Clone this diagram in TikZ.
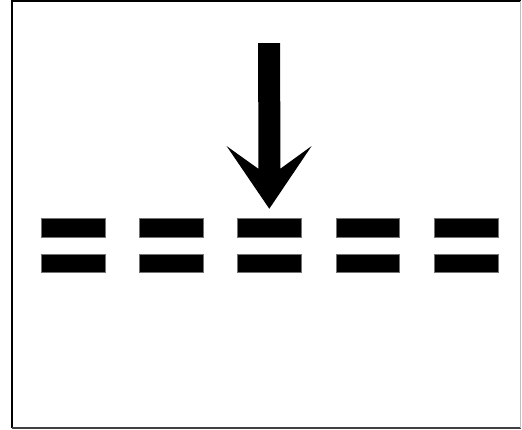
\documentclass[tikz,border=0pt]{standalone}
\usetikzlibrary{calc}
\begin{document}
\begin{tikzpicture}[x=1pt,y=-1pt,
  barbox/.style={rectangle,fill=black,draw=black!55,line width=0.5pt,minimum width=63.5pt,minimum height=18.5pt,inner sep=0pt,outer sep=0pt},
  frameline/.style={draw=black,line width=2pt}]
\useasboundingbox (0,0) rectangle (522,429);
\fill[white] (0,0) rectangle (522,429);
% frame
\draw[frameline] (12,1.2) -- (520.8,1.2);
\draw[frameline] (12,0) -- (12,428);
\draw[draw=black!75,line width=1.8pt] (12,427.8) -- (521,427.8);
\draw[draw=black!25,line width=1pt] (520.8,1) -- (520.8,428);
% bars
\foreach \i/\x in {1/73,2/171.2,3/269.3,4/367.7,5/466}{
  \node[barbox] (t\i) at (\x,227.5) {};
  \node[barbox] (b\i) at (\x,263) {};
}
% arrow
\coordinate (atop) at (269.2,43);
\coordinate (atip) at ($(t3.north)+(0,-9.5)$);
\fill[black] ([xshift=-11pt]atop) -- ([xshift=11pt]atop)
  -- ([xshift=11pt,yshift=40pt]atip) -- ([xshift=42.3pt,yshift=62.7pt]atip)
  -- (atip)
  -- ([xshift=-42.7pt,yshift=62.7pt]atip) -- ([xshift=-11pt,yshift=40pt]atip) -- cycle;
\end{tikzpicture}
\end{document}
